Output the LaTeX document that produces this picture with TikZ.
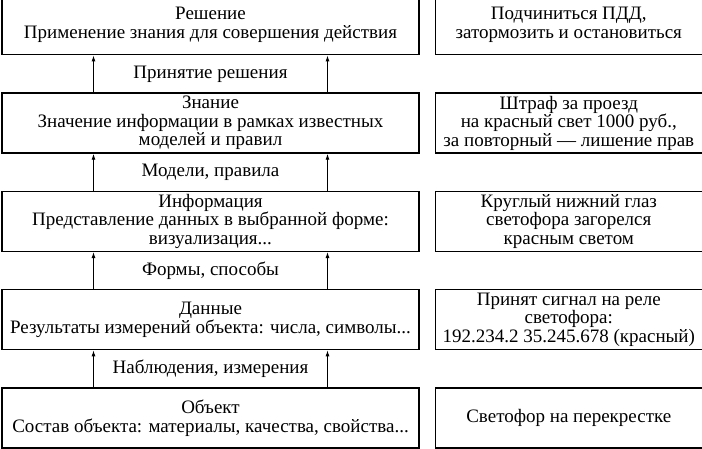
\documentclass[tikz,border=0pt]{standalone}
\usepackage{fontspec}
\setmainfont{Liberation Serif}
\usepackage{tikz}
\usetikzlibrary{positioning, arrows.meta, calc}

\begin{document}
\begin{tikzpicture}[x=1pt, y=1pt, font=\fontsize{19}{18.5}\selectfont,
  node distance=37pt and 15pt,
  lv/.style={draw, line width=1.3pt, minimum width=417pt, minimum height=60pt,
             align=center, inner sep=1pt},
  ex/.style={draw, line width=1.3pt, minimum width=267pt, minimum height=60pt,
             align=center, inner sep=1pt},
  ar/.style={-{Latex[length=6pt,width=4pt]}, line width=0.9pt}]
\useasboundingbox (0,0) rectangle (702,449);
\node[lv] (ob) at (210.5,31) {Объект\\Состав объекта: материалы, качества, свойства...};
\node[lv, above=of ob] (da) {Данные\\Результаты измерений объекта: числа, символы...};
\node[lv, above=of da] (in) {Информация\\Представление данных в выбранной форме:\\визуализация...};
\node[lv, above=of in] (zn) {Знание\\Значение информации в рамках известных\\моделей и правил};
\node[lv, above=of zn] (re) {Решение\\Применение знания для совершения действия};
\node[ex, right=of ob] (obx) {Светофор на перекрестке};
\node[ex, right=of da] (dax) {Принят сигнал на реле\\светофора:\\192.234.2 35.245.678 (красный)};
\node[ex, right=of in] (inx) {Круглый нижний глаз\\светофора загорелся\\красным светом};
\node[ex, right=of zn] (znx) {Штраф за проезд\\на красный свет 1000 руб.,\\за повторный — лишение прав};
\node[ex, right=of re] (rex) {Подчиниться ПДД,\\затормозить и остановиться};
% arrows between levels
\draw[ar] ([xshift=-117pt]ob.north) -- ([xshift=-117pt]da.south);
\draw[ar] ([xshift=117pt]ob.north) -- ([xshift=117pt]da.south);
\node at ($(ob.north)!0.5!(da.south)$) {Наблюдения, измерения};
\draw[ar] ([xshift=-117pt]da.north) -- ([xshift=-117pt]in.south);
\draw[ar] ([xshift=117pt]da.north) -- ([xshift=117pt]in.south);
\node at ($(da.north)!0.5!(in.south)$) {Формы, способы};
\draw[ar] ([xshift=-117pt]in.north) -- ([xshift=-117pt]zn.south);
\draw[ar] ([xshift=117pt]in.north) -- ([xshift=117pt]zn.south);
\node at ($(in.north)!0.5!(zn.south)$) {Модели, правила};
\draw[ar] ([xshift=-117pt]zn.north) -- ([xshift=-117pt]re.south);
\draw[ar] ([xshift=117pt]zn.north) -- ([xshift=117pt]re.south);
\node at ($(zn.north)!0.5!(re.south)$) {Принятие решения};
\end{tikzpicture}
\end{document}
